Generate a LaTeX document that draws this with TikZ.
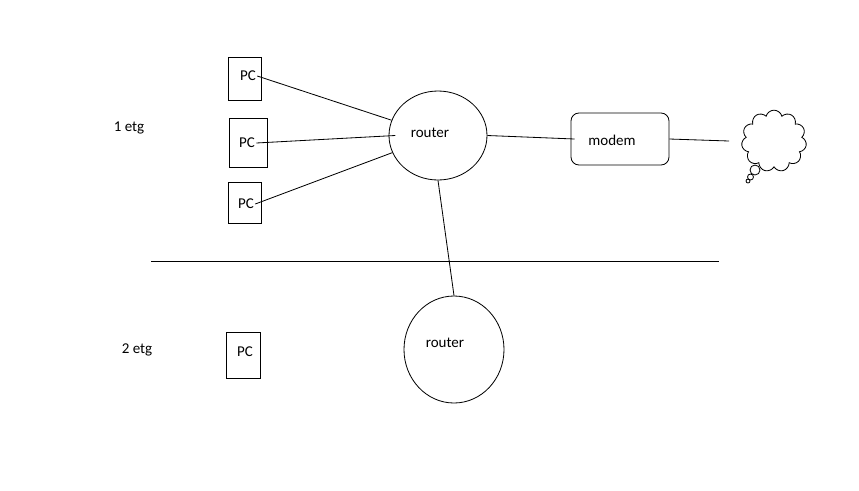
\documentclass[tikz,border=0pt]{standalone}
\usepackage{fontspec}
\setmainfont{Carlito}
\usetikzlibrary{positioning}
\usetikzlibrary{shapes.geometric}
\usetikzlibrary{shapes.symbols}
\tikzset{node distance=2cm,
every node/.style={font=\fontsize{12.8}{15}\selectfont},
pcbox/.style={ % Sets the box of each PC
draw, line width=0.7pt,
minimum width=0.99cm,
minimum height=1.29cm},
routerbox/.style={ % Sets the circle of each router
draw, line width=0.7pt, ellipse},
modembox/.style={
draw, line width=0.7pt,
rounded corners=0.24cm,
minimum width=2.94cm,
minimum height=1.56cm},
bubble/.style={draw, line width=0.7pt, circle, inner sep=0pt},
lbl/.style={inner sep=1pt},
wire/.style={draw, line width=0.7pt}}

\begin{document}
\begin{tikzpicture}[x=0.03cm, y=-0.03cm]
\useasboundingbox (0,0) rectangle (859,490);
% floor 1
\node[lbl] (etg1) at (129,128) {1 etg};
\node[pcbox] (pc1) at (244.5,78.5) {};
\node[pcbox, minimum width=1.14cm, minimum height=1.47cm] (pc2) at (248,142.5) {};
\node[pcbox, minimum height=1.23cm] (pc3) at (245,202.5) {};
\node[lbl] (pc1txt) at (248,76) {PC};
\node[lbl] (pc2txt) at (247,143) {PC};
\node[lbl] (pc3txt) at (246,204) {PC};
\node[routerbox, minimum width=2.94cm, minimum height=2.67cm] (r1) at (438,135.5) {};
\node[lbl] (r1txt) at (430,133) {router};
\node[modembox] (modem) at (620,139) {};
\node[lbl] (modemtxt) at (612,140) {modem};
\node[cloud, draw, line width=0.7pt, cloud puffs=11, aspect=1.05, minimum width=1.95cm, minimum height=1.85cm, inner sep=0pt] (net) at (774,141) {};
\node[bubble, minimum size=0.3cm] (bub1) at (755,170) {};
\node[bubble, minimum size=0.18cm] (bub2) at (750.5,177) {};
\node[bubble, minimum size=0.12cm] (bub3) at (748,181) {};
\draw[wire] (pc1txt.east) -- (r1);
\draw[wire] (pc2txt.east) -- ([xshift=0.2cm]r1.west);
\draw[wire] (pc3txt.east) -- (r1);
\draw[wire] (r1.east) -- ([xshift=0.12cm]modem.west);
\draw[wire] (modem.east) -- ([xshift=-0.39cm]net.west);
% floor line
\coordinate (floorl) at (151,261);
\coordinate (floorr) at (719,261);
\draw[wire] (floorl) -- (floorr);
% floor 2
\node[lbl] (etg2) at (137,350) {2 etg};
\node[pcbox, minimum width=1.02cm, minimum height=1.38cm] (pc4) at (243,355) {};
\node[lbl] (pc4txt) at (245,352) {PC};
\node[routerbox, minimum width=3cm, minimum height=3.21cm] (r2) at (454,349.5) {};
\node[lbl] (r2txt) at (445,343) {router};
\draw[wire] (r1.south) -- (r2.north);
\end{tikzpicture}
\end{document}
